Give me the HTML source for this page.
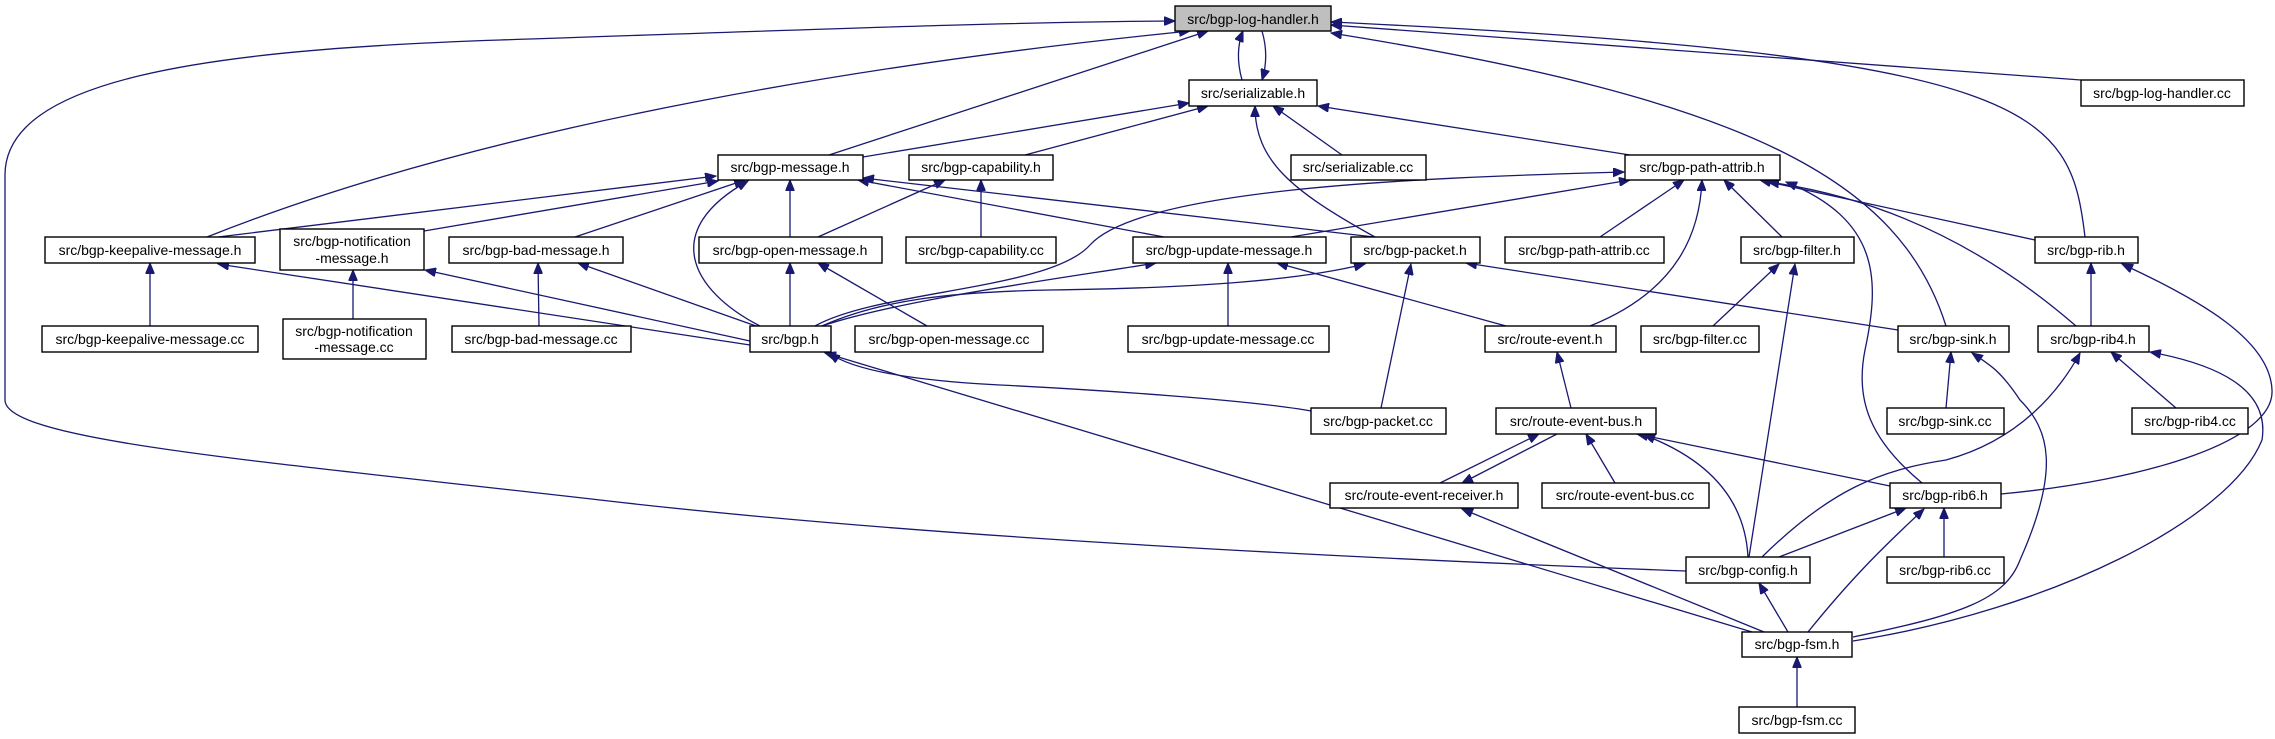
<!DOCTYPE html>
<html><head><meta charset="utf-8"><style>
html,body{margin:0;padding:0;background:#fff;width:2275px;height:739px;overflow:hidden}
svg text{font-family:"Liberation Sans",Helvetica,sans-serif;font-size:14px;fill:#000}
</style></head><body>
<svg width="2275" height="739" viewBox="0 0 2275 739" xmlns="http://www.w3.org/2000/svg">
<defs><marker id="a" markerUnits="userSpaceOnUse" markerWidth="12" markerHeight="9" refX="11" refY="4.5" orient="auto"><path d="M0,0 L11,4.5 L0,9 z" fill="#191970" stroke="#191970"/></marker></defs>
<g fill="none" stroke="#191970" stroke-width="1.3" marker-end="url(#a)">
<path d="M1242,80 C1237,62 1237,46 1243,31"/>
<path d="M1262,31 C1267,48 1267,64 1262,80"/>
<path d="M2081,80 L1331,25"/>
<path d="M2085,237 C2070,110 2040,55 1331,22"/>
<path d="M1946,326 C1900,180 1750,100 1331,33"/>
<path d="M207,237 C500,120 900,60 1190,31"/>
<path d="M829,155 L1208,31"/>
<path d="M1686,571 C1300,556 900,535 600,500 C250,460 5,440 5,400 L5,175 C5,80 200,50 500,40 C800,30 1000,22 1175,21"/>
<path d="M863,157 L1189,103"/>
<path d="M1025,155 L1208,106"/>
<path d="M1342,155 L1273,106"/>
<path d="M1630,155 L1318,106"/>
<path d="M1375,237 C1290,190 1255,160 1255,106"/>
<path d="M218,237 L716,176"/>
<path d="M424,231 L718,181"/>
<path d="M575,237 L745,180"/>
<path d="M790,237 L790,180"/>
<path d="M760,326 C690,290 660,230 748,181"/>
<path d="M1164,237 L858,180"/>
<path d="M1374,237 L863,178"/>
<path d="M818,237 L945,180"/>
<path d="M981,237 L981,180"/>
<path d="M815,326 C880,290 1050,290 1090,245 C1140,190 1400,178 1624,172"/>
<path d="M1291,237 L1630,180"/>
<path d="M1600,237 L1684,180"/>
<path d="M1590,326 C1680,290 1700,230 1702,180"/>
<path d="M1782,237 L1724,180"/>
<path d="M2035,240 L1760,180"/>
<path d="M2076,326 C2000,260 1900,200 1768,182"/>
<path d="M1922,483 C1870,440 1855,400 1865,350 C1880,280 1880,220 1786,182"/>
<path d="M150,326 L150,263"/>
<path d="M750,345 L218,264"/>
<path d="M353,319 L353,270"/>
<path d="M750,341 L425,270"/>
<path d="M539,326 L538,263"/>
<path d="M756,326 L578,263"/>
<path d="M790,326 L790,263"/>
<path d="M927,326 L818,263"/>
<path d="M822,326 C900,300 1050,280 1156,263"/>
<path d="M822,326 C880,300 950,292 1050,290 C1200,288 1300,280 1365,264"/>
<path d="M1228,326 L1228,263"/>
<path d="M1506,326 L1277,263"/>
<path d="M1381,408 L1411,264"/>
<path d="M1898,330 L1466,263"/>
<path d="M1713,326 L1779,264"/>
<path d="M1749,557 L1795,264"/>
<path d="M2091,326 L2091,263"/>
<path d="M2001,494 C2150,480 2275,440 2272,390 C2270,340 2200,300 2122,264"/>
<path d="M1311,411 C1250,400 1100,390 1000,385 C900,380 850,368 829,353"/>
<path d="M1752,632 L825,353"/>
<path d="M1571,408 L1557,352"/>
<path d="M1946,408 L1951,352"/>
<path d="M1853,637 C1960,615 2005,600 2020,560 C2060,470 2050,430 2020,400 C2000,370 1990,365 1972,353"/>
<path d="M1762,557 C1830,490 1880,470 1946,460 C2020,440 2060,390 2080,353"/>
<path d="M2176,408 L2111,352"/>
<path d="M1853,641 C2050,610 2230,520 2262,440 C2270,390 2220,365 2150,352"/>
<path d="M1440,483 L1539,434"/>
<path d="M1557,434 L1462,483"/>
<path d="M1615,483 L1586,434"/>
<path d="M1748,557 C1745,500 1710,460 1644,435"/>
<path d="M1890,486 L1637,434"/>
<path d="M1764,632 L1462,509"/>
<path d="M1779,557 L1906,508"/>
<path d="M1944,557 L1944,508"/>
<path d="M1808,632 C1850,580 1880,550 1924,509"/>
<path d="M1788,632 L1759,583"/>
<path d="M1797,707 L1797,657"/>
</g>
<g stroke="#000" stroke-width="1.4" fill="#fff">
<rect x="1175" y="6" width="156" height="25" fill="#bfbfbf"/>
<rect x="1189" y="80" width="128" height="26"/>
<rect x="2081" y="80" width="163" height="26"/>
<rect x="718" y="155" width="145" height="25"/>
<rect x="909" y="155" width="144" height="25"/>
<rect x="1291" y="155" width="135" height="25"/>
<rect x="1625" y="155" width="155" height="25"/>
<rect x="45" y="237" width="210" height="26"/>
<rect x="280" y="229" width="144" height="41"/>
<rect x="449" y="237" width="174" height="26"/>
<rect x="699" y="237" width="183" height="26"/>
<rect x="906" y="237" width="150" height="26"/>
<rect x="1133" y="237" width="193" height="26"/>
<rect x="1351" y="237" width="129" height="26"/>
<rect x="1505" y="237" width="159" height="26"/>
<rect x="1741" y="237" width="113" height="26"/>
<rect x="2035" y="237" width="103" height="26"/>
<rect x="42" y="326" width="216" height="26"/>
<rect x="283" y="319" width="143" height="40"/>
<rect x="452" y="326" width="179" height="26"/>
<rect x="750" y="326" width="81" height="26"/>
<rect x="855" y="326" width="188" height="26"/>
<rect x="1128" y="326" width="201" height="26"/>
<rect x="1485" y="326" width="131" height="26"/>
<rect x="1641" y="326" width="118" height="26"/>
<rect x="1898" y="326" width="111" height="26"/>
<rect x="2038" y="326" width="111" height="26"/>
<rect x="1311" y="408" width="135" height="26"/>
<rect x="1496" y="408" width="160" height="26"/>
<rect x="1887" y="408" width="117" height="26"/>
<rect x="2132" y="408" width="116" height="26"/>
<rect x="1330" y="483" width="188" height="25"/>
<rect x="1542" y="483" width="167" height="25"/>
<rect x="1890" y="483" width="111" height="25"/>
<rect x="1686" y="557" width="124" height="26"/>
<rect x="1887" y="557" width="117" height="26"/>
<rect x="1742" y="632" width="110" height="25"/>
<rect x="1739" y="707" width="116" height="26"/>
</g>
<g text-anchor="middle">
<text x="1253" y="24">src/bgp-log-handler.h</text>
<text x="1253" y="98">src/serializable.h</text>
<text x="2162" y="98">src/bgp-log-handler.cc</text>
<text x="790" y="172">src/bgp-message.h</text>
<text x="981" y="172">src/bgp-capability.h</text>
<text x="1358" y="172">src/serializable.cc</text>
<text x="1702" y="172">src/bgp-path-attrib.h</text>
<text x="150" y="255">src/bgp-keepalive-message.h</text>
<text x="352" y="246">src/bgp-notification</text>
<text x="352" y="263">-message.h</text>
<text x="536" y="255">src/bgp-bad-message.h</text>
<text x="790" y="255">src/bgp-open-message.h</text>
<text x="981" y="255">src/bgp-capability.cc</text>
<text x="1229" y="255">src/bgp-update-message.h</text>
<text x="1415" y="255">src/bgp-packet.h</text>
<text x="1584" y="255">src/bgp-path-attrib.cc</text>
<text x="1797" y="255">src/bgp-filter.h</text>
<text x="2086" y="255">src/bgp-rib.h</text>
<text x="150" y="344">src/bgp-keepalive-message.cc</text>
<text x="354" y="336">src/bgp-notification</text>
<text x="354" y="352">-message.cc</text>
<text x="541" y="344">src/bgp-bad-message.cc</text>
<text x="790" y="344">src/bgp.h</text>
<text x="949" y="344">src/bgp-open-message.cc</text>
<text x="1228" y="344">src/bgp-update-message.cc</text>
<text x="1550" y="344">src/route-event.h</text>
<text x="1700" y="344">src/bgp-filter.cc</text>
<text x="1953" y="344">src/bgp-sink.h</text>
<text x="2093" y="344">src/bgp-rib4.h</text>
<text x="1378" y="426">src/bgp-packet.cc</text>
<text x="1576" y="426">src/route-event-bus.h</text>
<text x="1945" y="426">src/bgp-sink.cc</text>
<text x="2190" y="426">src/bgp-rib4.cc</text>
<text x="1424" y="500">src/route-event-receiver.h</text>
<text x="1625" y="500">src/route-event-bus.cc</text>
<text x="1945" y="500">src/bgp-rib6.h</text>
<text x="1748" y="575">src/bgp-config.h</text>
<text x="1945" y="575">src/bgp-rib6.cc</text>
<text x="1797" y="649">src/bgp-fsm.h</text>
<text x="1797" y="725">src/bgp-fsm.cc</text>
</g>
</svg>
</body></html>
